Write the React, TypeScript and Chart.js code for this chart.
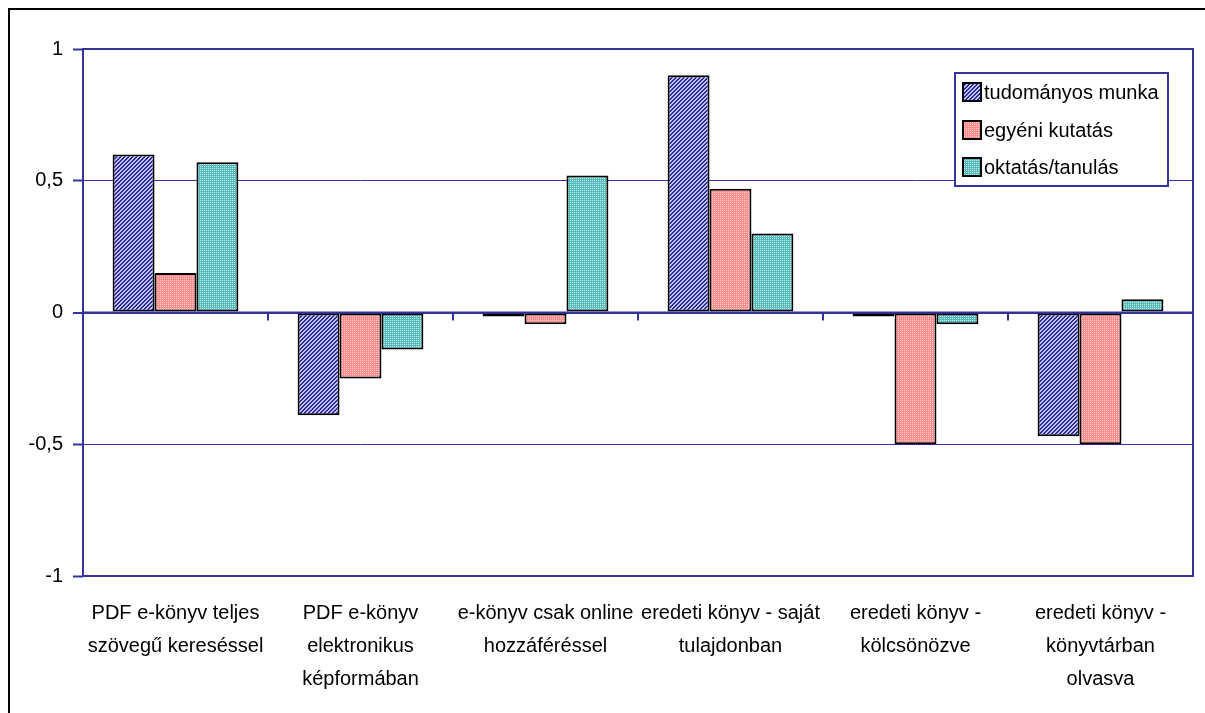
import React, { useEffect, useRef } from 'react';
import { Chart, registerables } from 'chart.js';
Chart.register(...registerables);

const categories: string[][] = [
  ['PDF e-könyv teljes', 'szövegű kereséssel'],
  ['PDF e-könyv', 'elektronikus', 'képformában'],
  ['e-könyv csak online', 'hozzáféréssel'],
  ['eredeti könyv - saját', 'tulajdonban'],
  ['eredeti könyv -', 'kölcsönözve'],
  ['eredeti könyv -', 'könyvtárban', 'olvasva'],
];
const seriesNames = ['tudományos munka', 'egyéni kutatás', 'oktatás/tanulás'];
const tudomanyos = [0.6, -0.39, -0.015, 0.9, -0.015, -0.47];
const egyeni = [0.15, -0.25, -0.045, 0.47, -0.5, -0.5];
const oktatas = [0.57, -0.14, 0.52, 0.3, -0.045, 0.05];
const yMin = -1;
const yMax = 1;
const yStep = 0.5;

const NAVY = '#333399';
const FONT = '"Liberation Sans", Arial, sans-serif';

function makePattern(kind: 'stripe' | 'dotPink' | 'dotTeal'): CanvasPattern | string {
  const c = document.createElement('canvas');
  const n = 4;
  c.width = n;
  c.height = n;
  const g = c.getContext('2d');
  if (!g) return '#888';
  for (let x = 0; x < n; x++) {
    for (let y = 0; y < n; y++) {
      let col = '#ffffff';
      if (kind === 'stripe') {
        col = (x + y) % 4 < 2 ? '#2a2aa0' : '#c4c4ff';
      } else if (kind === 'dotPink') {
        col = x % 2 === 0 && y % 2 === 0 ? '#ffd0d0' : '#ff8c8c';
      } else {
        col = x % 2 === 0 && y % 2 === 0 ? '#c8ecec' : '#55bcbc';
      }
      g.fillStyle = col;
      g.fillRect(x, y, 1, 1);
    }
  }
  const ctx = document.createElement('canvas').getContext('2d');
  return ctx ? (ctx.createPattern(c, 'repeat') as CanvasPattern) : '#888';
}

export default function App() {
  const ref = useRef<HTMLCanvasElement | null>(null);
  useEffect(() => {
    if (!ref.current) return;
    const fills = [makePattern('stripe'), makePattern('dotPink'), makePattern('dotTeal')];
    const values = [tudomanyos, egyeni, oktatas];

    const framePlugin = {
      id: 'framePlugin',
      afterDatasetsDraw(chart: any) {
        const { ctx, chartArea: a, scales } = chart;
        const y0 = scales.y.getPixelForValue(0);
        ctx.save();
        ctx.strokeStyle = NAVY;
        ctx.lineWidth = 2;
        ctx.beginPath();
        ctx.moveTo(a.left, y0);
        ctx.lineTo(a.right, y0);
        ctx.stroke();
        const xs = scales.x;
        for (let i = 1; i < categories.length; i++) {
          const px = (xs.getPixelForValue(i - 1) + xs.getPixelForValue(i)) / 2;
          ctx.beginPath();
          ctx.moveTo(Math.round(px), y0);
          ctx.lineTo(Math.round(px), y0 + 8);
          ctx.stroke();
        }
        ctx.strokeRect(a.left, a.top, a.right - a.left, a.bottom - a.top);

        const bw = 213;
        const bh = 113;
        const bx = a.right - 25 - bw;
        const by = a.top + 24;
        ctx.fillStyle = '#ffffff';
        ctx.fillRect(bx, by, bw, bh);
        ctx.strokeStyle = NAVY;
        ctx.lineWidth = 2;
        ctx.strokeRect(bx, by, bw, bh);
        ctx.font = `20px ${FONT}`;
        ctx.textBaseline = 'middle';
        ctx.textAlign = 'left';
        const rows = [19, 57, 94];
        seriesNames.forEach((name, i) => {
          const cy = by + rows[i];
          ctx.fillStyle = fills[i] as any;
          ctx.fillRect(bx + 8, cy - 9, 18, 18);
          ctx.strokeStyle = '#000000';
          ctx.lineWidth = 2;
          ctx.strokeRect(bx + 8, cy - 9, 18, 18);
          ctx.fillStyle = '#000000';
          ctx.fillText(name, bx + 29, cy + 1);
        });
        ctx.restore();
      },
    };

    const chart = new Chart(ref.current, {
      type: 'bar',
      data: {
        labels: categories,
        datasets: seriesNames.map((name, i) => ({
          label: name,
          data: values[i],
          backgroundColor: fills[i] as any,
          borderColor: '#000000',
          borderWidth: 2,
          borderSkipped: false,
          categoryPercentage: 0.68,
          barPercentage: 1,
        })),
      },
      options: {
        animation: false,
        responsive: false,
        maintainAspectRatio: false,
        devicePixelRatio: 1,
        layout: { padding: { top: 39, right: 12, left: 0, bottom: 0 } },
        plugins: {
          legend: { display: false },
          tooltip: { enabled: false },
        },
        scales: {
          x: {
            grid: { display: false, drawTicks: false },
            border: { display: false },
            ticks: {
              color: '#000000',
              font: { family: FONT, size: 20, lineHeight: 1.65 },
              padding: 21,
              maxRotation: 0,
              autoSkip: false,
            },
            afterFit(scale: any) {
              scale.height = 137;
            },
          },
          y: {
            min: yMin,
            max: yMax,
            border: { display: false },
            grid: {
              color: NAVY,
              lineWidth: (c: any) => (c.tick && c.tick.value === 0 ? 2 : 1),
              drawTicks: true,
              tickLength: 10,
              tickWidth: 2,
              tickColor: NAVY,
            },
            ticks: {
              stepSize: yStep,
              color: '#000000',
              padding: 10,
              font: { family: FONT, size: 20 },
              callback: (v: any) => String(v).replace('.', ','),
            },
            afterFit(scale: any) {
              scale.width = 73;
            },
          },
        },
      },
      plugins: [framePlugin],
    });
    return () => chart.destroy();
  }, []);

  return (
    <div
      style={{
        position: 'fixed',
        left: 8,
        top: 8,
        width: 1197,
        height: 705,
        borderTop: '2px solid #000',
        borderLeft: '2px solid #000',
        background: '#fff',
        overflow: 'hidden',
      }}
    >
      <canvas ref={ref} width={1195} height={703} style={{ display: 'block' }} />
    </div>
  );
}
